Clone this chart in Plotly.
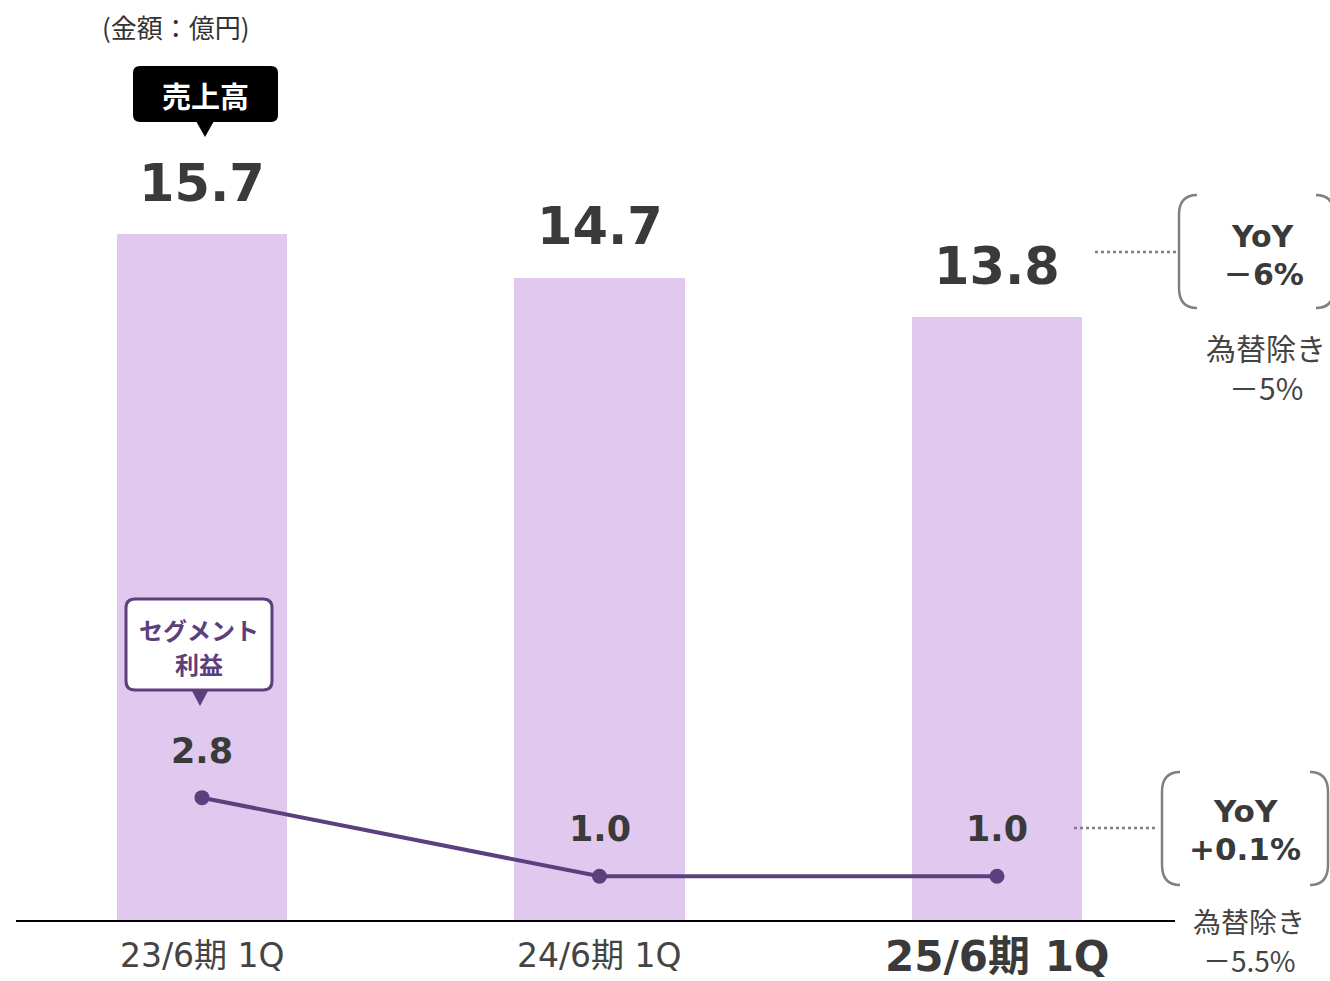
import plotly.graph_objects as go

# ---- data ----
categories = ["23/6期 1Q", "24/6期 1Q", "25/6期 1Q"]
sales = [15.7, 14.7, 13.8]
segment_profit = [2.8, 1.0, 1.0]
sales_labels = ["15.7", "14.7", "13.8"]
profit_labels = ["2.8", "1.0", "1.0"]

# ---- layout geometry (pixels) ----
W_FIG, H_FIG = 1330, 981
ML, MR, MT, MB = 16, 155, 20, 61
PW = W_FIG - ML - MR
PH = H_FIG - MT - MB


def px(x):
    return (x - ML) / PW


def py(y):
    return (H_FIG - MB - y) / PH


BAR_COLOR = "#e0c8ef"
LINE_COLOR = "#5c3f7c"
TEXT_DARK = "#3a3a3a"
GRAY = "#808080"
LATIN = "DejaVu Sans, Noto Sans CJK JP"
CJK = "Noto Sans CJK JP"

xs = list(range(len(categories)))

fig = go.Figure()
fig.add_trace(go.Bar(x=xs, y=sales, width=0.43, marker=dict(color=BAR_COLOR, line=dict(width=0)),
                     hoverinfo="skip", showlegend=False))
fig.add_trace(go.Scatter(x=xs, y=segment_profit, mode="lines+markers",
                         line=dict(color=LINE_COLOR, width=4),
                         marker=dict(color=LINE_COLOR, size=15),
                         hoverinfo="skip", showlegend=False))

annotations = []
# bar value labels
for i, (v, t) in enumerate(zip(sales, sales_labels)):
    annotations.append(dict(x=i, y=v, xref="x", yref="y", text=f"<b>{t}</b>", showarrow=False,
                            xanchor="center", yanchor="middle", yshift=51,
                            font=dict(family=LATIN, size=51, color=TEXT_DARK)))
# profit labels
for i, (v, t) in enumerate(zip(segment_profit, profit_labels)):
    annotations.append(dict(x=i, y=v, xref="x", yref="y", text=f"<b>{t}</b>", showarrow=False,
                            xanchor="center", yanchor="middle", yshift=47,
                            font=dict(family=LATIN, size=35, color=TEXT_DARK)))
# category labels
for i, c in enumerate(categories):
    last = i == len(categories) - 1
    annotations.append(dict(x=i, y=py(955 if not last else 956), xref="x", yref="paper",
                            text=f"<b>{c}</b>" if last else c, showarrow=False,
                            xanchor="center", yanchor="middle",
                            font=dict(family=LATIN, size=42 if last else 33,
                                      color=TEXT_DARK if last else "#444444")))


def pann(x, y, text, size, color, family=CJK, xanchor="center"):
    return dict(x=px(x), y=py(y), xref="paper", yref="paper", text=text, showarrow=False,
                xanchor=xanchor, yanchor="middle", font=dict(family=family, size=size, color=color))


annotations += [
    pann(100, 26, "(金額：億円)", 26, "#333333", xanchor="left"),
    pann(205, 95, "<b>売上高</b>", 29, "white"),
    pann(199, 629, "<b>セグメント</b>", 24, LINE_COLOR),
    pann(199, 663, "<b>利益</b>", 24, LINE_COLOR),
    pann(1263, 236, "<b>YoY</b>", 30, TEXT_DARK, family=LATIN),
    pann(1263, 274, "<b>－6%</b>", 30, TEXT_DARK, family=LATIN),
    pann(1266, 347, "為替除き", 30, "#444444"),
    pann(1266, 387, "－5%", 30, "#444444"),
    pann(1245, 811, "<b>YoY</b>", 31, TEXT_DARK, family=LATIN),
    pann(1245, 849, "<b>+0.1%</b>", 31, TEXT_DARK, family=LATIN),
    pann(1249, 921, "為替除き", 28, "#444444"),
    pann(1249, 960, "－5.5%", 28, "#444444"),
]

shapes = []


def rect_path(x0, y0, x1, y1, r):
    return (f"M {px(x0 + r)},{py(y0)} L {px(x1 - r)},{py(y0)} Q {px(x1)},{py(y0)} {px(x1)},{py(y0 + r)} "
            f"L {px(x1)},{py(y1 - r)} Q {px(x1)},{py(y1)} {px(x1 - r)},{py(y1)} "
            f"L {px(x0 + r)},{py(y1)} Q {px(x0)},{py(y1)} {px(x0)},{py(y1 - r)} "
            f"L {px(x0)},{py(y0 + r)} Q {px(x0)},{py(y0)} {px(x0 + r)},{py(y0)} Z")


def tri_path(xc, ybase, ytip, hw):
    return f"M {px(xc - hw)},{py(ybase)} L {px(xc + hw)},{py(ybase)} L {px(xc)},{py(ytip)} Z"


def bracket_path(xv, xe, y0, y1, r):
    return (f"M {px(xe)},{py(y0)} Q {px(xv)},{py(y0)} {px(xv)},{py(y0 + r)} "
            f"L {px(xv)},{py(y1 - r)} Q {px(xv)},{py(y1)} {px(xe)},{py(y1)}")


def pshape(path, fill=None, lc=None, lw=0):
    d = dict(type="path", xref="paper", yref="paper", path=path, layer="above")
    if fill:
        d["fillcolor"] = fill
    d["line"] = dict(color=lc, width=lw) if lc else dict(width=0)
    return d


# black callout
shapes.append(pshape(rect_path(133, 66, 278, 122, 7), fill="black"))
shapes.append(pshape(tri_path(205, 121, 137, 9), fill="black"))
# segment callout
shapes.append(pshape(rect_path(126, 599, 272, 690, 9), fill="white", lc=LINE_COLOR, lw=3))
shapes.append(pshape(tri_path(200, 691, 706, 8), fill=LINE_COLOR))
# brackets
shapes.append(pshape(bracket_path(1179, 1197, 195, 308, 20), lc=GRAY, lw=2.5))
shapes.append(pshape(bracket_path(1334, 1316, 195, 308, 20), lc=GRAY, lw=2.5))
shapes.append(pshape(bracket_path(1162, 1180, 772, 885, 20), lc=GRAY, lw=2.5))
shapes.append(pshape(bracket_path(1328, 1310, 772, 885, 20), lc=GRAY, lw=2.5))
# dotted leaders
shapes.append(dict(type="line", xref="paper", yref="paper", x0=px(1095), x1=px(1176), y0=py(252), y1=py(252),
                   line=dict(color=GRAY, width=2.5, dash="dot")))
shapes.append(dict(type="line", xref="paper", yref="paper", x0=px(1074), x1=px(1158), y0=py(828), y1=py(828),
                   line=dict(color=GRAY, width=2.5, dash="dot")))

fig.update_layout(
    width=W_FIG, height=H_FIG,
    margin=dict(l=ML, r=MR, t=MT, b=MB, pad=0),
    paper_bgcolor="white", plot_bgcolor="white",
    showlegend=False,
    xaxis=dict(range=[-(202 - ML) / 397.5, (1175 - 202) / 397.5], showgrid=False, zeroline=False,
               showticklabels=False, ticks="", showline=True, linecolor="black", linewidth=1.5),
    yaxis=dict(range=[0, PH / 43.69], showgrid=False, zeroline=False, showticklabels=False,
               ticks="", showline=False),
    annotations=annotations,
    shapes=shapes,
    bargap=0,
)

fig.write_html("out.html", config={"displayModeBar": False},
               post_script="document.body.style.margin='0';document.body.style.overflow='hidden';")
